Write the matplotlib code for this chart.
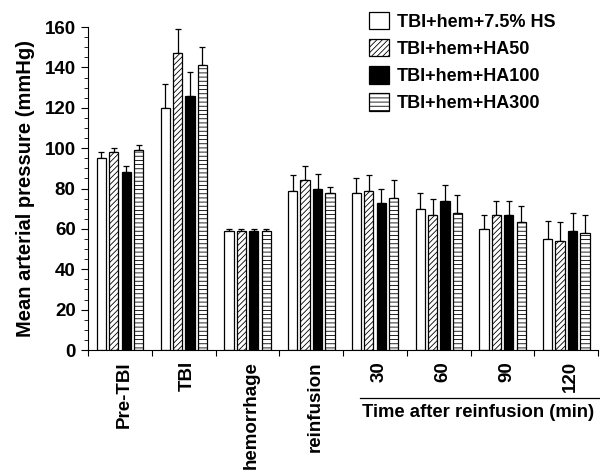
import matplotlib
matplotlib.use("Agg")
import matplotlib.pyplot as plt
from matplotlib.ticker import MultipleLocator
import numpy as np

plt.rcParams['font.family'] = ['Liberation Sans', 'DejaVu Sans']
plt.rcParams['hatch.linewidth'] = 0.6

categories = ["Pre-TBI", "TBI", "hemorrhage", "reinfusion", "30", "60", "90", "120"]
series_names = ["TBI+hem+7.5% HS", "TBI+hem+HA50", "TBI+hem+HA100", "TBI+hem+HA300"]
hs75 = [95, 120, 59, 79, 78, 70, 60, 55]
ha50 = [98, 147, 59, 84, 79, 67, 67, 54]
ha100 = [88, 126, 59, 80, 73, 74, 67, 59]
ha300 = [99, 141, 59, 78, 75.5, 68, 63.5, 58]
hs75_err = [3, 12, 1, 7.5, 7, 8, 7, 9]
ha50_err = [2, 12, 1, 7, 7.5, 8, 7, 9.5]
ha100_err = [3, 12, 1, 7, 7, 8, 7, 9]
ha300_err = [2.5, 9, 1, 3, 8.5, 9, 8, 9]
yticks = [0, 20, 40, 60, 80, 100, 120, 140, 160]

values = [hs75, ha50, ha100, ha300]
errors = [hs75_err, ha50_err, ha100_err, ha300_err]
faces = ["white", "white", "black", "white"]
hatches = [None, "//////", None, "----"]

fig = plt.figure(figsize=(6.0, 4.7), dpi=100)
ax = fig.add_axes([0.147, 0.2553, 0.85, 0.687])

x = np.arange(len(categories))
w = 0.145
step = 0.195
for i in range(4):
    pos = x + (i - 1.5) * step
    ax.bar(pos, values[i], w, color=faces[i], edgecolor="black", linewidth=0.9,
           hatch=hatches[i], label=series_names[i], zorder=2)
    ax.errorbar(pos, values[i], yerr=[np.zeros(len(pos)), errors[i]], fmt="none",
                ecolor="black", elinewidth=0.9, capsize=2.5, capthick=0.9, zorder=1)

ax.set_xlim(-0.5, len(categories) - 0.5)
ax.set_ylim(0, 160)
ax.set_yticks(yticks)
ax.yaxis.set_minor_locator(MultipleLocator(5))
ax.set_yticklabels([str(v) for v in yticks], fontsize=13.5, fontweight="bold")
ax.set_xticks(np.append(x - 0.5, x[-1] + 0.5))
ax.set_xticklabels([])
ax.tick_params(axis="x", direction="out", length=4, width=0.8)
ax.tick_params(axis="y", which="major", direction="out", length=5, width=0.8, pad=4)
ax.tick_params(axis="y", which="minor", direction="out", length=3, width=0.6)
for i, c in enumerate(categories):
    ax.text(x[i] + 0.06, -5.5, c, rotation=90, ha="center", va="top", fontsize=13.5,
            fontweight="bold")
ax.spines["top"].set_visible(False)
ax.spines["right"].set_visible(False)
ax.spines["left"].set_linewidth(0.8)
ax.spines["bottom"].set_linewidth(0.8)
ax.set_ylabel("Mean arterial pressure (mmHg)", fontsize=14.5, fontweight="bold", labelpad=7)

# Time after reinfusion annotation
ax.plot([3.77, 7.6], [-23.8, -23.8], color="black", lw=0.9, clip_on=False)
ax.text(3.79, -27, "Time after reinfusion (min)", ha="left", va="top", fontsize=13.3,
        fontweight="bold")

leg = ax.legend(loc="upper left", bbox_to_anchor=(0.519, 1.097), frameon=False,
                prop={"weight": "bold", "size": 13},
                handlelength=1.1, handleheight=1.1, handletextpad=0.45, labelspacing=0.46)

fig.savefig("out.png", dpi=100)
